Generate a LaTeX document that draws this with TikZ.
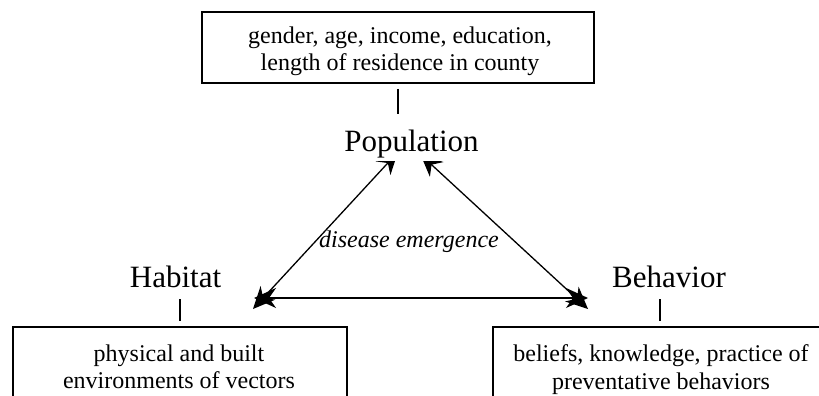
\documentclass[tikz,border=0pt]{standalone}
\usepackage{fontspec}
\setmainfont{Liberation Serif}
\usetikzlibrary{arrows.meta}
\tikzset{
  frame/.style={draw=black, line width=1.6pt, inner sep=0pt},
  boxtext/.style={align=center, inner sep=0pt, anchor=north, font=\fontsize{24}{27.5}\selectfont},
  corner/.style={inner sep=0pt, anchor=base, font=\fontsize{31}{34}\selectfont},
  tick/.style={line width=1.3pt},
  link/.style={line width=1.3pt, {Stealth[length=22pt,width=20pt,inset=7pt]}-{Stealth[length=22pt,width=20pt,inset=7pt]}}
}

\begin{document}
\begin{tikzpicture}[x=1pt, y=-1pt]
			%%%%% START %%%%%
			\useasboundingbox (0, 0) rectangle (819, 396);
			\clip (0, 0) rectangle (819, 396);
			
			% boxes
			\node[frame, minimum width=392pt, minimum height=71pt] (demobox) at (398, 47.5) {};
			\node[boxtext] (demotext) at (400, 26.5) {gender, age, income, education,\\length of residence in county};
			
			\node[frame, minimum width=334pt, minimum height=100pt] (habbox) at (180, 377) {};
			\node[boxtext] (habtext) at (179, 344.5) {physical and built\\environments of vectors};
			
			\node[frame, minimum width=334pt, minimum height=100pt] (behbox) at (660, 377) {};
			\node[boxtext] (behtext) at (661, 344.5) {beliefs, knowledge, practice of\\preventative behaviors};
			
			% arrow ends
			\coordinate (poptipL) at (398, 152);
			\coordinate (poptipR) at (420.5, 154.5);
			\coordinate (habtipD) at (253, 309);
			\coordinate (habtipH) at (254, 298);
			\coordinate (behtipH) at (588, 298);
			\coordinate (behtipD) at (588, 309);
			
			\draw[link] (poptipL) -- (habtipD);
			\draw[link] (poptipR) -- (behtipD);
			\draw[link] (habtipH) -- (behtipH);
			
			% labels
			\node[corner, fill=white, inner sep=3.5pt] (pop) at (411.5, 151) {Population};
			\node[corner] (hab) at (175.5, 287) {Habitat};
			\node[corner] (beh) at (669, 287) {Behavior};
			\node[anchor=base, inner sep=0pt, font=\fontsize{24}{27}\selectfont\itshape] (emerge) at (409, 247) {disease emergence};
			
			% ticks
			\draw[tick] ([yshift=-5pt]demobox.south) -- ++(0, 25);
			\draw[tick] ([yshift=27pt]habbox.north) -- ++(0, 22);
			\draw[tick] ([yshift=27pt]behbox.north) -- ++(0, 22);
			%%%%% END %%%%%
\end{tikzpicture}
\end{document}
